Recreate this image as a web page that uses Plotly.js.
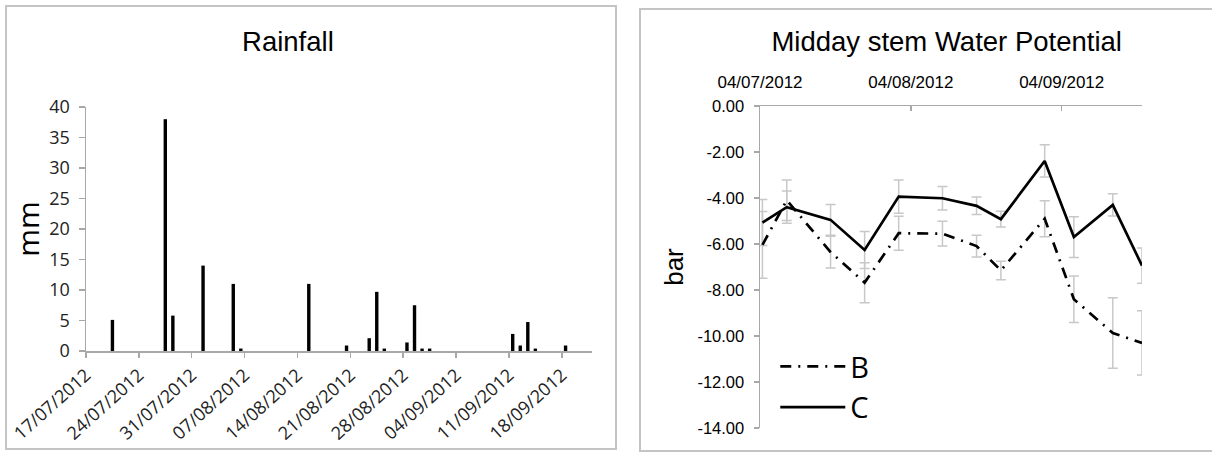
<!DOCTYPE html>
<html><head><meta charset="utf-8">
<script src="https://cdn.plot.ly/plotly-3.0.1.min.js"></script>
<style>
html,body{margin:0;padding:0;background:#fff;width:1212px;height:453px;overflow:hidden;}
#rain{position:absolute;left:5px;top:5px;width:608px;height:441px;border:2px solid #c4c4c4;}
#wp{position:absolute;left:639px;top:8px;width:580px;height:440px;border:2px solid #c4c4c4;}
</style></head><body>
<div id="rain"></div><div id="wp"></div>
<script>
// ---- Rainfall data ----
const rainDates = ['2012-07-20','2012-07-27','2012-07-28','2012-08-01','2012-08-05','2012-08-06','2012-08-15','2012-08-20','2012-08-23','2012-08-24','2012-08-25','2012-08-28','2012-08-29','2012-08-30','2012-08-31','2012-09-11','2012-09-12','2012-09-13','2012-09-14','2012-09-18'];
const rainMm = [5.1,38,5.8,14,11,0.4,11,0.9,2.1,9.7,0.4,1.4,7.5,0.4,0.4,2.8,0.9,4.75,0.4,0.9];
const rainTickDates = ['2012-07-17','2012-07-24','2012-07-31','2012-08-07','2012-08-14','2012-08-21','2012-08-28','2012-09-04','2012-09-11','2012-09-18'];
const rainTickText = ['17/07/2012','24/07/2012','31/07/2012','07/08/2012','14/08/2012','21/08/2012','28/08/2012','04/09/2012','11/09/2012','18/09/2012'];

// ---- Midday stem water potential data ----
const wpDates = ['2012-07-04','2012-07-09','2012-07-18','2012-07-25','2012-08-01','2012-08-10','2012-08-17','2012-08-22','2012-08-31','2012-09-06','2012-09-14','2012-09-20'];
const wpB = [-6.04,-4.1,-6.35,-7.68,-5.53,-5.55,-6.09,-7.15,-4.9,-8.4,-9.87,-10.3];
const wpBerr = [1.45,0.88,0.69,0.87,0.74,0.54,0.47,0.4,0.78,1.01,1.53,1.4];
const wpC = [-5.07,-4.4,-4.95,-6.26,-3.94,-4.01,-4.34,-4.92,-2.39,-5.7,-4.3,-6.94];
const wpCerr = [1.0,0.7,0.67,0.8,0.72,0.51,0.38,0.34,0.7,0.89,0.48,0.77];
const wpTickDates = ['2012-07-04','2012-08-04','2012-09-04'];
const wpTickText = ['04/07/2012','04/08/2012','04/09/2012'];
const wpYTickVals = [0,-2,-4,-6,-8,-10,-12,-14];
const wpYTickText = ['0.00','-2.00','-4.00','-6.00','-8.00','-10.00','-12.00','-14.00'];

const DAY = 86400000;
const axisGray = '#a8a8a8';

// ---- Rainfall chart ----
Plotly.newPlot('rain', [{
  type:'bar', x:rainDates, y:rainMm,
  xperiod:DAY, xperiodalignment:'middle',
  width:0.45*DAY, marker:{color:'#000', line:{width:0}},
  hoverinfo:'x+y'
}], {
  width:608, height:441,
  margin:{l:79, r:23, t:100, b:97, pad:0},
  paper_bgcolor:'#fff', plot_bgcolor:'#fff',
  showlegend:false,
  title:{text:'Rainfall', font:{family:'Liberation Sans, Arial, sans-serif', size:27.5, color:'#000'},
         xref:'container', x:0.462, xanchor:'center', yref:'container', y:0.9215, yanchor:'middle'},
  xaxis:{type:'date', range:['2012-07-17','2012-09-22'], tickvals:rainTickDates, ticktext:rainTickText,
         tickangle:-42, ticks:'outside', ticklen:5, tickwidth:1.5, tickcolor:axisGray,
         showline:true, linecolor:axisGray, linewidth:1.5, showgrid:false, zeroline:false,
         tickfont:{family:'Open Sans, sans-serif', size:18, color:'#222'}, fixedrange:true},
  yaxis:{range:[0,40], tick0:0, dtick:5, ticks:'outside', ticklen:6, tickwidth:1.5, tickcolor:axisGray,
         showline:true, linecolor:axisGray, linewidth:1.5, showgrid:false, zeroline:false,
         ticklabelstandoff:5,
         tickfont:{family:'Open Sans, sans-serif', size:18, color:'#222'},
         title:{text:'mm', font:{family:'Open Sans, sans-serif', size:30, color:'#000'}, standoff:2},
         fixedrange:true}
}, {displayModeBar:false, staticPlot:true});

// ---- Water potential chart ----
const errStyle = (arr) => ({type:'data', array:arr, visible:true, color:'#c8c8c8', thickness:1.5, width:5});
Plotly.newPlot('wp', [
  {type:'scatter', mode:'markers', x:wpDates, y:wpB, xperiod:DAY, xperiodalignment:'middle',
   marker:{size:1, color:'rgba(0,0,0,0)'}, error_y:errStyle(wpBerr), showlegend:false, hoverinfo:'skip'},
  {type:'scatter', mode:'markers', x:wpDates, y:wpC, xperiod:DAY, xperiodalignment:'middle',
   marker:{size:1, color:'rgba(0,0,0,0)'}, error_y:errStyle(wpCerr), showlegend:false, hoverinfo:'skip'},
  {type:'scatter', mode:'lines', name:'B', x:wpDates, y:wpB, xperiod:DAY, xperiodalignment:'middle',
   line:{color:'#000', width:2.7, dash:'11px,7px,2px,7px'}},
  {type:'scatter', mode:'lines', name:'C', x:wpDates, y:wpC, xperiod:DAY, xperiodalignment:'middle',
   line:{color:'#000', width:2.7}}
], {
  width:580, height:440,
  margin:{l:119, r:79, t:96, b:22, pad:0},
  paper_bgcolor:'#fff', plot_bgcolor:'#fff',
  showlegend:true,
  legend:{x:0.04, y:0.27, xanchor:'left', yanchor:'top', bgcolor:'rgba(0,0,0,0)', borderwidth:0,
          font:{family:'Open Sans, sans-serif', size:29, color:'#000'}, itemwidth:65, tracegroupgap:0},
  title:{text:'Midday stem Water Potential', font:{family:'Liberation Sans, Arial, sans-serif', size:27.5, color:'#000'},
         xref:'container', x:0.527, xanchor:'center', yref:'container', y:0.9295, yanchor:'middle'},
  xaxis:{type:'date', side:'top', range:['2012-07-04','2012-09-20 12:00'], tickvals:wpTickDates, ticktext:wpTickText,
         tickangle:0, ticks:'inside', ticklen:5, tickwidth:1.5, tickcolor:axisGray,
         showline:true, linecolor:axisGray, linewidth:1.5, showgrid:false, zeroline:false,
         ticklabelstandoff:10,
         tickfont:{family:'Liberation Sans, Arial, sans-serif', size:17, color:'#000'}, fixedrange:true},
  yaxis:{range:[-14,0], tickvals:wpYTickVals, ticktext:wpYTickText, ticks:'outside', ticklen:5, tickwidth:1.5, tickcolor:axisGray,
         showline:true, linecolor:axisGray, linewidth:1.5, showgrid:false, zeroline:false,
         ticklabelstandoff:6,
         tickfont:{family:'Liberation Sans, Arial, sans-serif', size:16.5, color:'#000'},
         title:{text:'bar', font:{family:'Liberation Sans, Arial, sans-serif', size:26, color:'#000'}, standoff:6},
         fixedrange:true}
}, {displayModeBar:false, staticPlot:true});
</script>
</body></html>
